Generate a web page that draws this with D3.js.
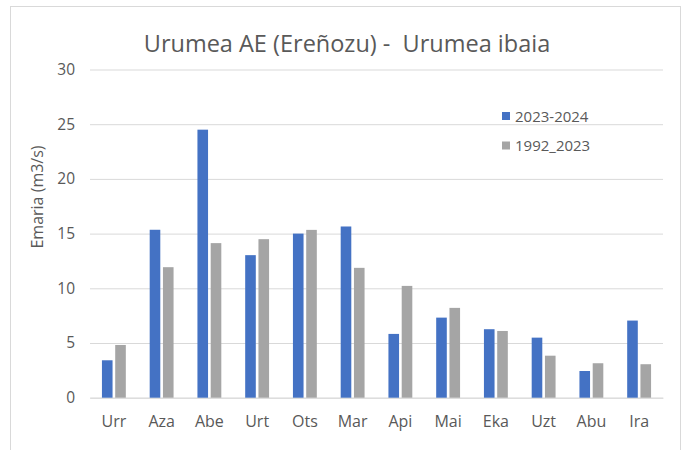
<!DOCTYPE html>
<html>
<head>
<meta charset="utf-8">
<script src="https://cdn.jsdelivr.net/npm/d3@7"></script>
<style>
 body { margin: 0; background: #fff; }
 text { font-family: 'Open Sans', sans-serif; fill: #595959; }
</style>
</head>
<body>
<svg width="687" height="450"></svg>
<script>
// Data.

var months = ['Urr', 'Aza', 'Abe', 'Urt', 'Ots', 'Mar', 'Api', 'Mai', 'Eka', 'Uzt', 'Abu', 'Ira'];
var series = ['2023-2024', '1992_2023'];
var flow2324 = [3.42, 15.35, 24.5, 13.03, 15.0, 15.65, 5.83, 7.32, 6.26, 5.49, 2.44, 7.05];
var flowHist = [4.82, 11.93, 14.13, 14.49, 15.34, 11.87, 10.22, 8.21, 6.1, 3.84, 3.15, 3.06];
var yTicks = [0, 5, 10, 15, 20, 25, 30];

var svg = d3.select('svg');
var margin = {top: 69.5, right: 24, bottom: 52.3, left: 90};
var width = svg.attr('width') - margin.left - margin.right;
var height = svg.attr('height') - margin.top - margin.bottom;

// Chart frame.

svg.append('rect')
 .attr('x', 10.5).attr('y', 6.5)
 .attr('width', 670).attr('height', 460)
 .attr('fill', 'none')
 .attr('stroke', '#d9d9d9');

var graphic = svg.append('g').attr('transform', 'translate(' + margin.left + ',' + margin.top + ')');

var x = d3.scaleBand()
 .domain(months)
 .range([0, width])
 .paddingInner(0.5)
 .paddingOuter(0.25);

var x1 = d3.scaleBand()
 .domain(series)
 .range([0, x.bandwidth()])
 .paddingInner(0.2);

var y = d3.scaleLinear()
 .domain([0, 30])
 .range([height, 0]);

var z = d3.scaleOrdinal().domain(series).range(['#4472c4', '#a5a5a5']);

// Gridlines and axes.

graphic.append('g')
 .attr('class', 'grid')
 .call(d3.axisLeft(y).tickValues(yTicks).tickSize(-width).tickFormat(''))
 .call(function(g) { g.select('.domain').remove(); })
 .selectAll('line').attr('stroke', '#d9d9d9');

graphic.append('g')
 .call(d3.axisLeft(y).tickValues(yTicks).tickSize(0).tickPadding(15))
 .call(function(g) { g.select('.domain').remove(); })
 .selectAll('text')
 .style('font-size', '15.5px');

graphic.append('g')
 .attr('transform', 'translate(0,' + height + ')')
 .call(d3.axisBottom(x).tickSize(0).tickPadding(17.5))
 .call(function(g) { g.select('.domain').attr('stroke', '#d9d9d9'); })
 .selectAll('text')
 .style('font-size', '16px');

// Bars.

var rows = months.map(function(m, i) {
 return {month: m, values: [{key: series[0], v: flow2324[i]}, {key: series[1], v: flowHist[i]}]};
});

graphic.append('g')
 .selectAll('g')
 .data(rows)
 .enter().append('g')
 .attr('transform', function(d) { return 'translate(' + x(d.month) + ',0)'; })
 .selectAll('rect')
 .data(function(d) { return d.values; })
 .enter().append('rect')
 .attr('x', function(d) { return x1(d.key); })
 .attr('y', function(d) { return y(d.v); })
 .attr('width', x1.bandwidth())
 .attr('height', function(d) { return y(0) - y(d.v); })
 .attr('fill', function(d) { return z(d.key); });

// Title and axis label.

svg.append('text')
 .attr('x', 347).attr('y', 52)
 .attr('text-anchor', 'middle')
 .style('font-size', '23.5px')
 .style('white-space', 'pre')
 .text('Urumea AE (Ereñozu) -  Urumea ibaia');

svg.append('text')
 .attr('transform', 'translate(43,197) rotate(-90)')
 .attr('text-anchor', 'middle')
 .style('font-size', '16px')
 .text('Emaria (m3/s)');

// Legend.

var legend = svg.append('g')
 .selectAll('g')
 .data(series)
 .enter().append('g')
 .attr('transform', function(d, i) { return 'translate(502,' + (112 + i * 29.5) + ')'; });

legend.append('rect')
 .attr('width', 8).attr('height', 8)
 .attr('fill', z);

legend.append('text')
 .attr('x', 13).attr('y', 9.5)
 .style('font-size', '15px')
 .text(function(d) { return d; });
</script>
</body>
</html>
